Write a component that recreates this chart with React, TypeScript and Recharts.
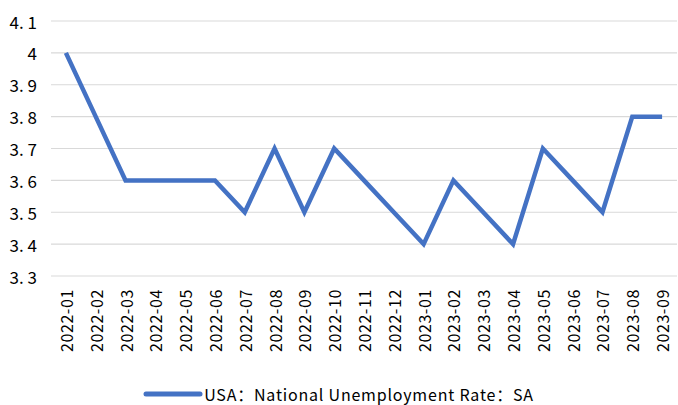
import React from 'react';
import { LineChart, Line, XAxis, YAxis, CartesianGrid, Legend } from 'recharts';

const months = [
  '2022-01', '2022-02', '2022-03', '2022-04', '2022-05', '2022-06', '2022-07',
  '2022-08', '2022-09', '2022-10', '2022-11', '2022-12', '2023-01', '2023-02',
  '2023-03', '2023-04', '2023-05', '2023-06', '2023-07', '2023-08', '2023-09',
];
const unemploymentRate = [
  4.0, 3.8, 3.6, 3.6, 3.6, 3.6, 3.5, 3.7, 3.5, 3.7, 3.6, 3.5, 3.4, 3.6,
  3.5, 3.4, 3.7, 3.6, 3.5, 3.8, 3.8,
];
const yTicks = [3.3, 3.4, 3.5, 3.6, 3.7, 3.8, 3.9, 4.0, 4.1];
const seriesName = 'USA：National Unemployment Rate：SA';

// category boundaries for the tick marks between months
const boundaries = Array.from({ length: months.length + 1 }, (_, i) => i);

const data = months.map((month, i) => ({ month, rate: unemploymentRate[i] }));

const FONT = '"Noto Sans CJK SC", "Noto Sans", sans-serif';
const BLUE = '#4472C4';

const MonthTick = ({ x, y, payload }: any) => (
  <text
    x={x}
    y={y + 5}
    transform={`rotate(-90 ${x} ${y + 5})`}
    textAnchor="end"
    dominantBaseline="central"
    fontSize={16}
    letterSpacing={0.6}
    fontFamily={FONT}
    fill="#000"
  >
    {payload.value}
  </text>
);

const ValueTick = ({ x, y, payload }: any) => {
  const label = String(+Number(payload.value).toFixed(1)).replace('.', '. ');
  return (
    <text
      x={x}
      y={y}
      textAnchor="end"
      dominantBaseline="central"
      fontSize={17}
      fontFamily={FONT}
      fill="#000"
      style={{ whiteSpace: 'pre' }}
    >
      {label}
    </text>
  );
};

const LegendContent = () => (
  <div
    style={{
      height: 22,
      display: 'flex',
      justifyContent: 'center',
      alignItems: 'center',
      fontFamily: FONT,
      fontSize: 16,
      letterSpacing: 0.8,
      lineHeight: '18px',
      color: '#000',
    }}
  >
    <svg width={60} height={8} style={{ marginRight: 1 }}>
      <line x1={3} y1={4} x2={57} y2={4} stroke={BLUE} strokeWidth={5} strokeLinecap="round" />
    </svg>
    <span>{seriesName}</span>
  </div>
);

const App: React.FC = () => {
  return (
    <div style={{ width: 678, height: 405, background: '#fff' }}>
      <style>{'body{margin:0}'}</style>
      <LineChart
        width={678}
        height={405}
        data={data}
        margin={{ top: 21, right: 1, left: 0, bottom: 0 }}
      >
        <CartesianGrid vertical={false} stroke="#d9d9d9" strokeWidth={1.2} />
        <XAxis
          xAxisId="edges"
          type="number"
          domain={[0, months.length]}
          allowDataOverflow
          ticks={boundaries}
          height={0}
          axisLine={{ stroke: '#d9d9d9', strokeWidth: 1.2 }}
          tickLine={{ stroke: '#d9d9d9', strokeWidth: 1.2 }}
          tickSize={6}
          tick={() => <g />}
        />
        <XAxis
          dataKey="month"
          scale="band"
          interval={0}
          height={107}
          axisLine={false}
          tickLine={false}
          tick={<MonthTick />}
        />
        <YAxis
          domain={[3.3, 4.1]}
          ticks={yTicks}
          width={51}
          axisLine={false}
          tickLine={false}
          tickSize={0}
          tickMargin={14}
          tick={<ValueTick />}
        />
        <Legend verticalAlign="bottom" content={<LegendContent />} />
        <Line
          type="linear"
          dataKey="rate"
          name={seriesName}
          stroke={BLUE}
          strokeWidth={4.5}
          dot={false}
          activeDot={false}
          isAnimationActive={false}
        />
      </LineChart>
    </div>
  );
};

export default App;
